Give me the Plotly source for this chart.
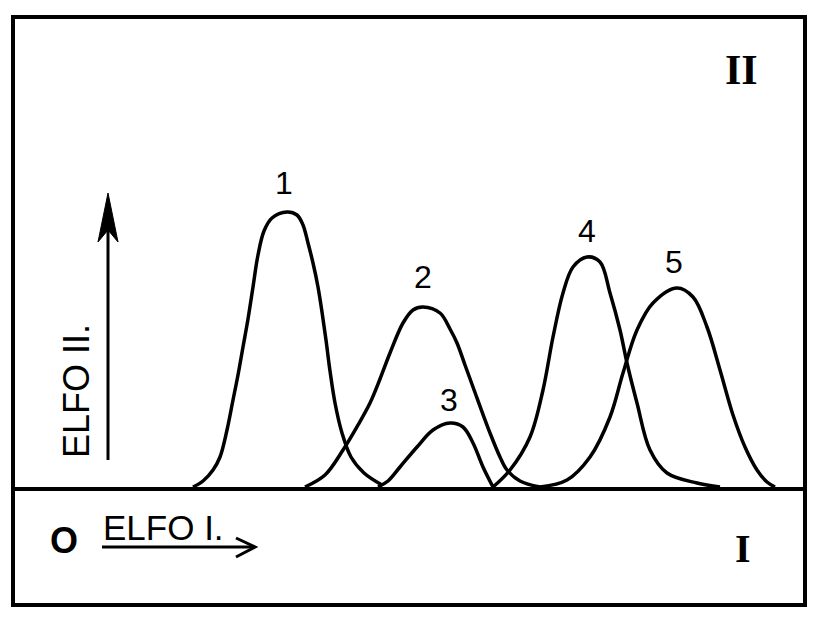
import plotly.graph_objects as go

# Peak outlines.
# x = migration along ELFO I, y = height along ELFO II (0 = baseline)
peak1_x = [193, 203, 213, 220, 227, 233, 238, 243, 248, 253, 258, 264, 272, 287, 297, 303, 308, 313, 318, 322, 326, 330, 335, 342, 351, 364, 382]
peak1_y = [0, 6, 17, 30, 57, 87, 112, 140, 168, 200, 232, 256, 269, 275, 272, 262, 244, 224, 200, 175, 147, 116, 84, 54, 30, 14, 2]

peak2_x = [305, 325, 343, 358, 370, 380, 390, 403, 413, 423, 440, 450, 457, 465, 473, 490, 500, 507, 520, 540]
peak2_y = [0, 12, 37, 62, 84, 108, 134, 164, 177, 180, 174, 158, 144, 122, 100, 54, 30, 17, 6, 0]

peak3_x = [378, 388, 400, 417, 433, 450, 463, 473, 483, 493]
peak3_y = [0, 6, 20, 40, 57, 64, 60, 44, 20, 0]

peak4_x = [493, 510, 530, 543, 553, 563, 573, 587, 600, 610, 620, 627, 637, 650, 667, 697, 720]
peak4_y = [0, 17, 50, 97, 150, 194, 220, 230, 225, 194, 157, 124, 84, 37, 14, 4, 0]

peak5_x = [540, 567, 590, 610, 623, 637, 653, 677, 693, 707, 720, 733, 745, 757, 767, 775]
peak5_y = [0, 7, 30, 70, 114, 157, 184, 199, 190, 160, 117, 72, 40, 17, 5, 0]

peak_labels = ["1", "2", "3", "4", "5"]
label_x = [284, 423, 449, 587, 674]
label_y = [301, 207, 84, 253, 222]

peaks = [
    (peak1_x, peak1_y),
    (peak2_x, peak2_y),
    (peak3_x, peak3_y),
    (peak4_x, peak4_y),
    (peak5_x, peak5_y),
]

fig = go.Figure()

for px, py in peaks:
    fig.add_trace(
        go.Scatter(
            x=px, y=py, mode="lines",
            line=dict(color="black", width=3.5, shape="spline", smoothing=1.0),
            hoverinfo="skip", showlegend=False,
        )
    )

fig.add_trace(
    go.Scatter(
        x=label_x, y=label_y, mode="text", text=peak_labels,
        textfont=dict(family="Liberation Sans, Arial", size=32, color="black"),
        hoverinfo="skip", showlegend=False,
    )
)

shapes = [
    # outer frame
    dict(type="rect", xref="paper", yref="paper", x0=0, x1=1, y0=0, y1=1,
         line=dict(color="black", width=4)),
    # divider between panel II and panel I
    dict(type="line", xref="paper", yref="y", x0=0, x1=1, y0=-2, y1=-2,
         line=dict(color="black", width=4)),
    # ELFO II arrow
    dict(type="line", xref="x", yref="y", x0=108, x1=108, y0=27, y1=257,
         line=dict(color="black", width=3)),
    dict(type="path", xref="x", yref="y", path="M 108 294 L 98 245 L 108 257 L 118 245 Z",
         fillcolor="black", line=dict(color="black", width=1)),
    # ELFO I arrow
    dict(type="line", xref="x", yref="y", x0=102, x1=254, y0=-60, y1=-60,
         line=dict(color="black", width=3)),
    dict(type="path", xref="x", yref="y", path="M 236 -51 L 255 -60 L 236 -70",
         line=dict(color="black", width=3)),
]

annotations = [
    dict(x=741, y=417, text="<b>II</b>", showarrow=False,
         font=dict(family="Liberation Serif, Times New Roman", size=42, color="black")),
    dict(x=743, y=-61, text="<b>I</b>", showarrow=False,
         font=dict(family="Liberation Serif, Times New Roman", size=40, color="black")),
    dict(x=64, y=-53, text="<b>O</b>", showarrow=False,
         font=dict(family="Liberation Sans, Arial", size=36, color="black")),
    dict(x=101, y=-40, text="ELFO I.", showarrow=False, xanchor="left",
         font=dict(family="Liberation Sans, Arial", size=35, color="black")),
    dict(x=76, y=96, text="ELFO II.", showarrow=False, textangle=-90,
         font=dict(family="Liberation Sans, Arial", size=36, color="black")),
]

# the page body adds an 8 px offset, so the figure is shrunk and margins shifted
fig.update_layout(
    width=813, height=609,
    margin=dict(l=5, r=16, t=9, b=12),
    paper_bgcolor="white", plot_bgcolor="white",
    shapes=shapes, annotations=annotations,
    showlegend=False,
)
fig.update_xaxes(range=[13, 805], visible=False, fixedrange=True)
fig.update_yaxes(range=[-118, 470], visible=False, fixedrange=True)

fig.write_html("out.html", config={"displayModeBar": False})
